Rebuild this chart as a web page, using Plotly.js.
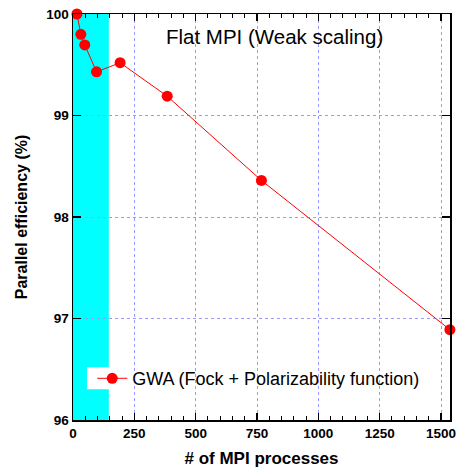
<!DOCTYPE html>
<html>
<head>
<meta charset="utf-8">
<script src="https://cdn.plot.ly/plotly-3.0.1.min.js"></script>
<style>html,body{margin:0;padding:0;background:#fff;}#chart{width:458px;height:469px;}</style>
</head>
<body>
<div id="chart"></div>
<script>
const processes = [16, 32, 48, 96, 192, 384, 768, 1536];
const efficiency = [100.0, 99.80, 99.695, 99.43, 99.52, 99.19, 98.36, 96.89];
const seriesName = "GWA (Fock + Polarizability function)";
const chartTitle = "Flat MPI (Weak scaling)";
const highlightRange = [0, 146];
const xTickVals = [0, 250, 500, 750, 1000, 1250, 1500];
const yTickVals = [96, 97, 98, 99, 100];

const FONT = "Liberation Sans, Arial, sans-serif";

const trace = {
  x: processes,
  y: efficiency,
  mode: "lines+markers",
  name: seriesName,
  line: {color: "#ff0000", width: 1},
  marker: {color: "#ff0000", size: 11},
  cliponaxis: false,
  showlegend: true
};

const layout = {
  width: 458, height: 469,
  margin: {l: 73, r: 8, t: 14, b: 49},
  paper_bgcolor: "#fff",
  plot_bgcolor: "#fff",
  showlegend: true,
  font: {family: FONT, color: "#000"},
  xaxis: {
    range: [0, 1536.5],
    tickvals: xTickVals,
    ticks: "inside", ticklen: 7, tickwidth: 1.2, tickcolor: "#000",
    minor: {dtick: 50, ticks: "inside", ticklen: 4, tickcolor: "#000", tickwidth: 1, showgrid: false},
    showgrid: true, gridcolor: "#9999ff", griddash: "dot", gridwidth: 1,
    showline: true, linecolor: "#000", linewidth: 1.5, mirror: "allticks",
    zeroline: false,
    tickfont: {family: FONT, size: 13.5, weight: "bold"},
    title: {text: "# of MPI processes", font: {family: FONT, size: 17, weight: "bold"}, standoff: 12}
  },
  yaxis: {
    range: [96, 100],
    tickvals: yTickVals,
    ticks: "inside", ticklen: 8, tickwidth: 1.2, tickcolor: "#000",
    showgrid: true, gridcolor: "#9999ff", griddash: "dot", gridwidth: 1,
    showline: true, linecolor: "#000", linewidth: 1.5, mirror: "allticks",
    zeroline: false,
    tickfont: {family: FONT, size: 13.5, weight: "bold"},
    title: {text: "Parallel efficiency (%)", font: {family: FONT, size: 16, weight: "bold"}, standoff: 14}
  },
  shapes: [
    {type: "rect", xref: "x", yref: "paper", x0: highlightRange[0], x1: highlightRange[1], y0: 0, y1: 1,
     fillcolor: "#00ffff", line: {width: 0}, layer: "below"},
    {type: "rect", xref: "paper", yref: "paper", x0: 0.037, x1: 0.159, y0: 0.076, y1: 0.13,
     fillcolor: "#ffffff", line: {width: 0}, layer: "below"}
  ],
  annotations: [
    {text: chartTitle, xref: "paper", yref: "paper", x: 0.535, y: 0.945, xanchor: "center", yanchor: "middle",
     showarrow: false, font: {family: FONT, size: 20.5, color: "#000"}}
  ],
  legend: {
    x: 0.051, y: 0.102, xanchor: "left", yanchor: "middle",
    bgcolor: "rgba(0,0,0,0)", borderwidth: 0,
    font: {family: FONT, size: 18, color: "#000"}
  }
};

Plotly.newPlot("chart", [trace], layout, {displayModeBar: false, staticPlot: true});
</script>
</body>
</html>
